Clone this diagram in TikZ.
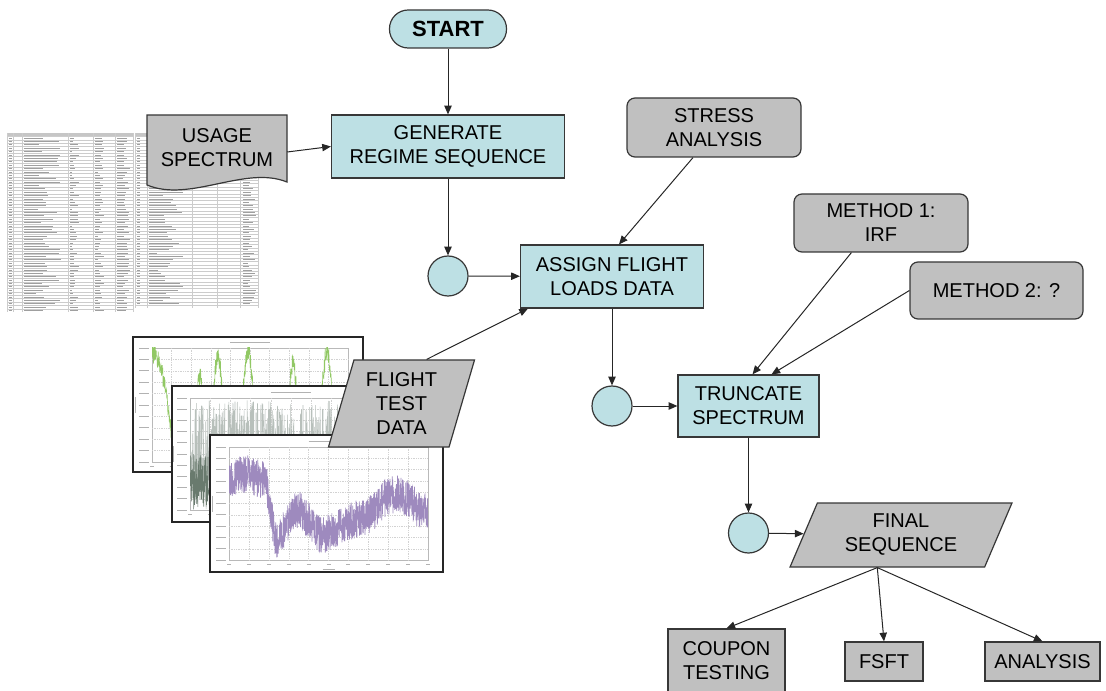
\documentclass[tikz,border=0pt]{standalone}
\usepackage{fontspec}
\setmainfont{Liberation Sans}
\usetikzlibrary{shapes.geometric,arrows.meta,calc}

\definecolor{flowcyan}{RGB}{189,224,228}
\definecolor{flowgray}{RGB}{192,192,192}
\definecolor{edgegray}{RGB}{55,55,55}
\definecolor{plotpurple}{RGB}{158,138,190}
\definecolor{plotgreen}{RGB}{145,200,100}
\definecolor{plotdark}{RGB}{78,98,84}

\tikzset{
  box/.style={draw=edgegray, line width=0.9pt, font=\fontsize{15}{18}\selectfont,
    align=center, inner sep=1pt},
  procbox/.style={box, rectangle, fill=flowcyan},
  infobox/.style={box, rectangle, rounded corners=6pt, fill=flowgray},
  outbox/.style={box, rectangle, fill=flowgray},
  joint/.style={draw=edgegray, line width=0.9pt, fill=flowcyan, circle,
    minimum size=30pt, inner sep=0pt},
  datashape/.style={box, trapezium, trapezium stretches=true, fill=flowgray},
  flow/.style={draw=black!85, line width=0.75pt, -{Triangle[length=6.5pt,width=5.5pt]}},
  sheetrule/.style={draw=gray!40, line width=0.3pt},
  celltext/.style={draw=gray!75, line width=0.5pt},
  chartframe/.style={draw=black!85, line width=1pt, fill=white},
  gridline/.style={draw=gray!35, line width=0.3pt, densely dotted},
  ticktext/.style={draw=gray!60, line width=0.6pt},
}

% plot area of a small chart: frame, grid, tick labels, title and axis captions
\newcommand{\chartdecor}[4]{%
  \draw[gray!55, line width=0.4pt] (#1,#2) rectangle (#3,#4);
  \foreach \gx in {1,...,9}
    \draw[gridline] ({#1+\gx*(#3-#1)/10},#2) -- ({#1+\gx*(#3-#1)/10},#4);
  \foreach \gy in {1,...,9}
    \draw[gridline] (#1,{#2+\gy*(#4-#2)/10}) -- (#3,{#2+\gy*(#4-#2)/10});
  \foreach \gy in {0,...,10}
    \draw[ticktext] ({#1-13},{#2+\gy*(#4-#2)/10}) -- ({#1-3},{#2+\gy*(#4-#2)/10});
  \foreach \gx in {0,...,10}
    \draw[ticktext] ({#1+\gx*(#3-#1)/10-2},{#4+4}) -- ({#1+\gx*(#3-#1)/10+2},{#4+4});
  \draw[ticktext] ({(#1+#3)/2-20},{#2-6}) -- ({(#1+#3)/2+20},{#2-6});
  \draw[ticktext] ({#1-17},{(#2+#4)/2-8}) -- ({#1-17},{(#2+#4)/2+8});
  \draw[ticktext] ({(#1+#3)/2-6},{#4+9}) -- ({(#1+#3)/2+6},{#4+9});
}

\begin{document}
\begin{tikzpicture}[x=0.75pt,y=-0.75pt,
  declare function={
    bump(\x,\cc,\hh,\ww)=\hh*max(0,1-((\x-\cc)/\ww)*((\x-\cc)/\ww));
    pbase(\x)=478+(\x>266)*min(58,(\x-266)*6)-(\x>280)*min(22,(\x-280)*1.5)
      +(\x>300)*min(16,(\x-300)*0.8)-(\x>345)*min(32,(\x-345)*0.8)
      +(\x>400)*min(8,(\x-400)*0.4)+4*sin(\x*7);
  }]
\useasboundingbox (0,0) rectangle (1106,691);
\clip (0,0) rectangle (1106,691);
\pgfmathsetseed{2718}

% ---------- spreadsheet printout (usage spectrum table) ----------
\fill[white] (7,133) rectangle (133,312);
\fill[gray!45] (7,133) rectangle (133,137);
\foreach \rr in {1,...,52}
  \draw[sheetrule] (7,{133+\rr*3.38}) -- (133,{133+\rr*3.38});
\foreach \vx in {7,13,22,68,93,115,133}
  \draw[sheetrule] (\vx,133) -- (\vx,312);
\foreach \rr in {1,...,52}{
  \pgfmathsetmacro{\yy}{133+(\rr+0.5)*3.38}
  \pgfmathsetmacro{\la}{12+26*rnd}
  \pgfmathsetmacro{\lb}{2+7*rnd}
  \pgfmathsetmacro{\lc}{3+6*rnd}
  \pgfmathsetmacro{\ld}{6+7*rnd}
  \draw[celltext] (8.5,\yy) -- ++(3,0);
  \draw[celltext] (24,\yy) -- ++(\la,0);
  \draw[celltext] (70,\yy) -- ++(\lb,0);
  \draw[celltext] (95,\yy) -- ++(\lc,0);
  \draw[celltext] (117,\yy) -- ++(\ld,0);
}
\fill[white] (135,133) rectangle (258,308);
\fill[gray!45] (135,133) rectangle (258,137);
\foreach \rr in {1,...,51}
  \draw[sheetrule] (135,{133+\rr*3.38}) -- (258,{133+\rr*3.38});
\foreach \vx in {135,147,192,217,240,258}
  \draw[sheetrule] (\vx,133) -- (\vx,308);
\foreach \rr in {1,...,50}{
  \pgfmathsetmacro{\yy}{133+(\rr+0.5)*3.38}
  \pgfmathsetmacro{\la}{8+26*rnd}
  \pgfmathsetmacro{\ld}{5+8*rnd}
  \draw[celltext] (137,\yy) -- ++(3,0);
  \draw[celltext] (149,\yy) -- ++(\la,0);
  \draw[celltext] (243,\yy) -- ++(\ld,0);
}

% ---------- usage spectrum document shape ----------
\draw[draw=edgegray, line width=0.9pt, fill=flowgray]
  (147,115) -- (287,115) -- (287,182)
  .. controls (245,165) and (190,203) .. (147,185) -- cycle;
\node[font=\fontsize{15}{18}\selectfont, align=center, inner sep=0pt,
  minimum width=105pt, minimum height=52.5pt] (usage) at (217,148) {USAGE\\SPECTRUM};

% ---------- flight test chart printouts ----------
% green chart
\draw[chartframe] (133,337) rectangle (363,472);
\chartdecor{152}{348}{348}{462}
\begin{scope}
  \clip (152,348) rectangle (348,462);
  \draw[plotgreen, line width=0.45pt] plot[domain=152:348, samples=800]
    (\x,{457-bump(\x,152,105,22)-bump(\x,200,80,6)-bump(\x,218,100,7)
      -bump(\x,248,105,8)-bump(\x,293,95,6)-bump(\x,327,105,8)+10*rand});
\end{scope}
% dark green chart
\draw[chartframe] (172,386) rectangle (402,522);
\chartdecor{190}{398}{392}{510}
\begin{scope}
  \clip (190,398) rectangle (392,510);
  \draw[plotdark!40, line width=0.4pt] plot[domain=190:392, samples=800]
    (\x,{455+55*rand});
  \draw[plotdark!85, line width=0.45pt] plot[domain=190:392, samples=900]
    (\x,{482+28*rand});
\end{scope}
% purple chart
\draw[chartframe] (210,435) rectangle (443,572);
\chartdecor{229}{447}{428}{560}
\begin{scope}
  \clip (229,447) rectangle (428,560);
  \draw[plotpurple, line width=0.5pt] plot[domain=229:428, samples=1100]
    (\x,{pbase(\x)+19*rand});
\end{scope}

% ---------- flowchart nodes ----------
\node[box, rounded corners=14pt, fill=flowcyan, minimum width=87.75pt,
  minimum height=28.5pt, font=\bfseries\fontsize{16.5}{19}\selectfont]
  (start) at (448,29) {START};
\node[procbox, minimum width=174.75pt, minimum height=47.25pt]
  (gen) at (448,146.5) {GENERATE\\REGIME SEQUENCE};
\node[joint] (c1) at (448,276) {};
\node[procbox, minimum width=137.25pt, minimum height=47.25pt]
  (assign) at (612,276.5) {ASSIGN FLIGHT\\LOADS DATA};
\node[infobox, minimum width=130.5pt, minimum height=44.25pt]
  (stress) at (714,127.5) {STRESS\\ANALYSIS};
\node[datashape, trapezium left angle=73, trapezium right angle=107,
  minimum width=110.25pt, minimum height=65.25pt]
  (flight) at (401.5,403.5) {FLIGHT\\TEST\\DATA};
\node[joint] (c2) at (612,406) {};
\node[procbox, minimum width=105.75pt, minimum height=46.5pt]
  (trunc) at (748.5,406) {TRUNCATE\\SPECTRUM};
\node[infobox, minimum width=130.5pt, minimum height=43.5pt]
  (m1) at (881,223) {METHOD 1:\\IRF};
\node[infobox, minimum width=129.75pt, minimum height=42.75pt]
  (m2) at (996.5,290.5) {METHOD 2: ?};
\node[joint] (c3) at (748.5,533) {};
\node[datashape, trapezium left angle=67, trapezium right angle=113,
  minimum width=166.5pt, minimum height=48pt]
  (final) at (901,535) {FINAL\\SEQUENCE};
\node[outbox, minimum width=87.75pt, minimum height=48pt]
  (coupon) at (726.5,661) {COUPON\\TESTING};
\node[outbox, minimum width=58.5pt, minimum height=29.25pt]
  (fsft) at (884,661.5) {FSFT};
\node[outbox, minimum width=86.25pt, minimum height=29.25pt]
  (analysis) at (1042.5,661.5) {ANALYSIS};

% ---------- connectors ----------
\draw[flow] (start) -- (gen);
\draw[flow] ($(usage.east)+(0,4)$) -- (gen.west);
\draw[flow] (gen) -- (c1);
\draw[flow] (c1) -- (assign);
\draw[flow] ($(stress.south west)!0.38!(stress.south east)$) -- ($(assign.north)+(7,0)$);
\draw[flow] ($(flight.top left corner)!0.6!(flight.top right corner)$)
  -- ($(assign.south west)+(8,0)$);
\draw[flow] (assign) -- (c2);
\draw[flow] (c2) -- (trunc);
\draw[flow] ($(m1.south west)+(58,0)$) -- ($(trunc.north)+(4,0)$);
\draw[flow] (m2.west) -- ($(trunc.north)+(23,0)$);
\draw[flow] (trunc) -- (c3);
\draw[flow] (c3) -- (final);
\coordinate (fout) at ($(final.bottom left corner)!0.45!(final.bottom right corner)$);
\draw[flow] (fout) -- (coupon.north);
\draw[flow] (fout) -- (fsft.north);
\draw[flow] (fout) -- (analysis.north);
\end{tikzpicture}
\end{document}
